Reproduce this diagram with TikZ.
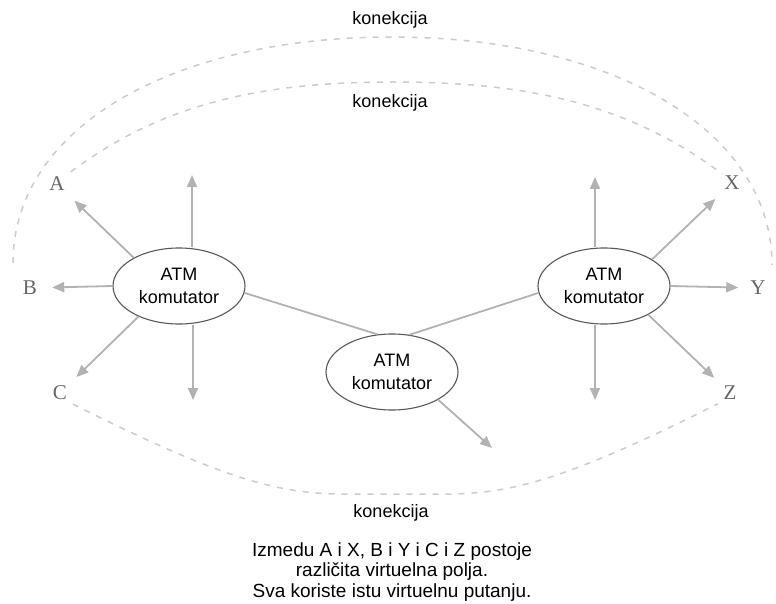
\documentclass[tikz,border=0pt]{standalone}
\usepackage{fontspec}
\setmainfont{Liberation Sans}
\newfontfamily\slovofont{Liberation Serif}
\usetikzlibrary{shapes.geometric,arrows.meta}

\begin{document}
\begin{tikzpicture}[x=1pt,y=-1pt,
        komutator/.style={ellipse,draw=black!65,line width=1.1pt,fill=white,
            minimum width=132pt,minimum height=76pt,inner sep=0pt,align=center,
            font=\fontsize{18}{23}\selectfont},
        slovo/.style={inner sep=2pt,text=black!60,font=\slovofont\fontsize{21}{21}\selectfont},
        veza/.style={draw=black!30,line width=1.8pt},
        strelica/.style={veza,-{Triangle[length=12pt,width=10pt]}},
        konekcija/.style={draw=black!20,line width=1.5pt,dash pattern=on 6pt off 7pt},
        natpis/.style={font=\fontsize{18}{20.5}\selectfont,align=center}
    ]
    \useasboundingbox (0,0) rectangle (776,604);

    % komutatori
    \node[komutator] (L) at (179,286) {ATM\\komutator};
    \node[komutator] (R) at (604,286) {ATM\\komutator};
    \node[komutator] (M) at (392,372) {ATM\\komutator};

    % krajnje tacke
    \node[slovo] (A) at (57,184) {A};
    \node[slovo] (B) at (30,288) {B};
    \node[slovo] (C) at (60,393) {C};
    \node[slovo] (X) at (732,183) {X};
    \node[slovo] (Y) at (758,288) {Y};
    \node[slovo] (Z) at (730,393) {Z};

    \coordinate (Lgore) at (192,175);
    \coordinate (Ldolje) at (193,400);
    \coordinate (Rgore) at (595,177);
    \coordinate (Rdolje) at (595,400);
    \coordinate (Mdolje) at (492,448);

    % veze izmedju komutatora
    \draw[veza] (L.354) -- (M.111);
    \draw[veza] (M.65) -- (R.186);

    % izlazi
    \draw[strelica,shorten >=11pt] (L.148) -- (A);
    \draw[strelica,shorten >=13pt] (L.west) -- (B);
    \draw[strelica,shorten >=10pt] (L.217) -- (C);
    \draw[strelica] (L.north -| Lgore) -- (Lgore);
    \draw[strelica] (L.south -| Ldolje) -- (Ldolje);
    \draw[strelica,shorten >=10pt] (R.29) -- (X);
    \draw[strelica,shorten >=10pt] (R.east) -- (Y);
    \draw[strelica,shorten >=10pt] (R.327) -- (Z);
    \draw[strelica] (R.north -| Rgore) -- (Rgore);
    \draw[strelica] (R.south -| Rdolje) -- (Rdolje);
    \draw[strelica] (M.329) -- (Mdolje);

    % konekcije
    \coordinate (lijevo) at (13,263);
    \coordinate (desno) at (772,265);
    \coordinate (vrh1) at (392,37);
    \coordinate (vrh2) at (393,82);
    \coordinate (dno) at (395,494);
    \draw[konekcija] (lijevo) .. controls +(0,-135) and +(-220,0) .. (vrh1)
        .. controls +(220,0) and +(0,-135) .. (desno);
    \draw[konekcija,shorten <=5pt] (A.north east) .. controls +(96,-72) and +(-130,0) .. (vrh2)
        .. controls +(130,0) and +(-96,-72) .. (X.north west);
    \draw[konekcija,shorten <=4pt,shorten >=4pt] (C.south east) .. controls (270,503) and (300,494) .. (dno)
        .. controls (490,494) and (520,503) .. (Z.south west);

    \node[natpis] (k1) at (390,20) {konekcija};
    \node[natpis] (k2) at (390,103) {konekcija};
    \node[natpis] (k3) at (391,513) {konekcija};
    \node[natpis,font=\fontsize{19}{20.8}\selectfont] (opis) at (392,572) {Izmedu A i X, B i Y i C i Z postoje\\
        različita virtuelna polja.\\Sva koriste istu virtuelnu putanju.};
\end{tikzpicture}
\end{document}
